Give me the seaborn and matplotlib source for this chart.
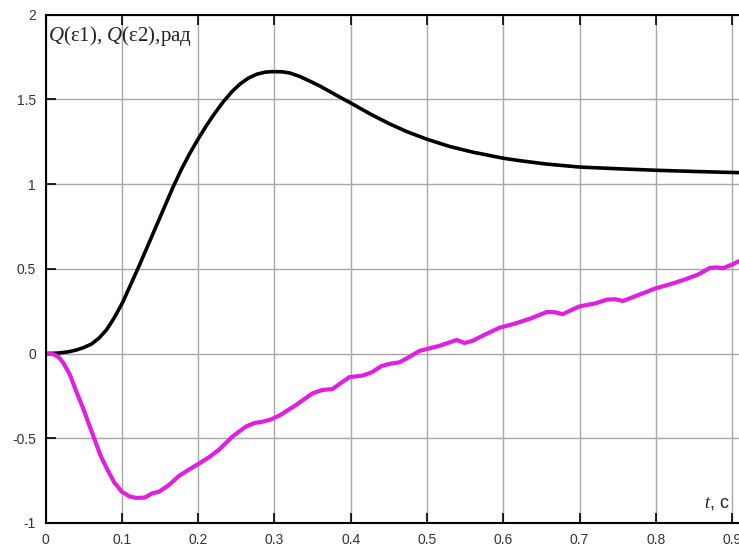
import matplotlib
matplotlib.use("Agg")
import matplotlib.pyplot as plt
import seaborn as sns
import pandas as pd

# Time samples and responses
t_eps1 = [0, 0.01, 0.02, 0.03, 0.04, 0.05, 0.06, 0.07, 0.08, 0.09, 0.101,
          0.112, 0.123, 0.134, 0.145, 0.156, 0.167, 0.178, 0.189, 0.20, 0.211,
          0.222, 0.233, 0.244, 0.255, 0.266, 0.277, 0.288, 0.298, 0.31, 0.32,
          0.333, 0.346, 0.36, 0.372, 0.386, 0.40, 0.415, 0.429, 0.44, 0.451,
          0.473, 0.50, 0.53, 0.56, 0.60, 0.621, 0.656, 0.70, 0.75, 0.80, 0.85,
          0.90, 0.909]
q_eps1 = [0, 0.001, 0.004, 0.01, 0.02, 0.035, 0.055, 0.09, 0.14, 0.21, 0.30,
          0.41, 0.52, 0.635, 0.75, 0.865, 0.98, 1.085, 1.18, 1.265, 1.345,
          1.418, 1.485, 1.543, 1.59, 1.625, 1.648, 1.66, 1.663, 1.662, 1.655,
          1.635, 1.608, 1.577, 1.547, 1.512, 1.478, 1.44, 1.405, 1.38, 1.355,
          1.31, 1.264, 1.221, 1.188, 1.152, 1.138, 1.118, 1.10, 1.09, 1.081,
          1.074, 1.068, 1.067]

t_eps2 = [0, 0.01, 0.017, 0.023, 0.032, 0.04, 0.049, 0.058, 0.065, 0.072, 0.08,
          0.09, 0.10, 0.11, 0.119, 0.13, 0.14, 0.149, 0.162, 0.175, 0.188,
          0.201, 0.215, 0.228, 0.245, 0.263, 0.274, 0.284, 0.295, 0.307, 0.328,
          0.35, 0.363, 0.376, 0.387, 0.398, 0.416, 0.428, 0.44, 0.452, 0.464,
          0.477, 0.49, 0.516, 0.539, 0.549, 0.56, 0.573, 0.595, 0.612, 0.635,
          0.657, 0.668, 0.678, 0.69, 0.70, 0.72, 0.736, 0.747, 0.757, 0.78,
          0.80, 0.82, 0.84, 0.855, 0.871, 0.88, 0.888, 0.9, 0.909]
q_eps2 = [0, -0.004, -0.02, -0.053, -0.125, -0.22, -0.32, -0.43, -0.515, -0.60, -0.675,
          -0.76, -0.815, -0.843, -0.852, -0.85, -0.825, -0.815, -0.775, -0.722, -0.685,
          -0.65, -0.61, -0.565, -0.49, -0.43, -0.41, -0.403, -0.39, -0.365, -0.305,
          -0.235, -0.215, -0.21, -0.175, -0.14, -0.13, -0.11, -0.075, -0.06, -0.052,
          -0.02, 0.015, 0.045, 0.08, 0.062, 0.075, 0.105, 0.152, 0.172, 0.205,
          0.245, 0.243, 0.232, 0.258, 0.278, 0.295, 0.318, 0.32, 0.31, 0.35,
          0.385, 0.41, 0.44, 0.465, 0.505, 0.508, 0.503, 0.525, 0.545]

x_ticks = [0, 0.1, 0.2, 0.3, 0.4, 0.5, 0.6, 0.7, 0.8, 0.9]
x_tick_labels = ["0", "0.1", "0.2", "0.3", "0.4", "0.5", "0.6", "0.7", "0.8", "0.9"]
y_ticks = [-1, -0.5, 0, 0.5, 1, 1.5, 2]
y_tick_labels = ["-1", "-0.5", "0", "0.5", "1", "1.5", "2"]

sns.set_style("ticks")
plt.rcParams["font.family"] = ["Liberation Sans", "DejaVu Sans"]
plt.rcParams["axes.unicode_minus"] = False
plt.rcParams["mathtext.fontset"] = "custom"
plt.rcParams["mathtext.it"] = "Liberation Serif:italic"
plt.rcParams["mathtext.rm"] = "Liberation Serif"
plt.rcParams["lines.solid_joinstyle"] = "round"
plt.rcParams["lines.solid_capstyle"] = "round"

df1 = pd.DataFrame({"t": t_eps1, "q": q_eps1})
df2 = pd.DataFrame({"t": t_eps2, "q": q_eps2})

fig = plt.figure(figsize=(7.39, 5.49), dpi=100)
ax = fig.add_axes([45.5 / 739, 26 / 549, 1 - 45.5 / 739, (523 - 14.5) / 549])

sns.lineplot(data=df1, x="t", y="q", ax=ax, color="black", linewidth=2.6,
             estimator=None, sort=False)
sns.lineplot(data=df2, x="t", y="q", ax=ax, color="#e01fe0", linewidth=3.0,
             estimator=None, sort=False)

ax.set_xlim(0, 0.909)
ax.set_ylim(-1, 2)
ax.set_xticks(x_ticks)
ax.set_xticklabels(x_tick_labels)
ax.set_yticks(y_ticks)
ax.set_yticklabels(y_tick_labels)
ax.set_xlabel("")
ax.set_ylabel("")

ax.grid(True, color="#a8a8a8", linewidth=1.0)
ax.set_axisbelow(True)
ax.tick_params(axis="both", direction="in", length=7, width=1.2,
               labelsize=10, colors="black", labelcolor="#333333")
ax.tick_params(axis="x", top=True, pad=7)
ax.tick_params(axis="y", pad=7)
for side in ("left", "bottom", "top"):
    ax.spines[side].set_linewidth(1.5)
    ax.spines[side].set_color("black")
ax.spines["right"].set_visible(False)

ax.text(0.004, 0.9485, r"$Q$(ε1), $Q$(ε2),рад", transform=ax.transAxes,
        fontsize=15, family="Liberation Serif", color="#222222",
        ha="left", va="baseline")
ax.text(0.987, 0.031, r"$t$, с", transform=ax.transAxes,
        fontsize=13, family="Liberation Sans", color="#222222",
        ha="right", va="baseline")

fig.savefig("out.png", dpi=100)
